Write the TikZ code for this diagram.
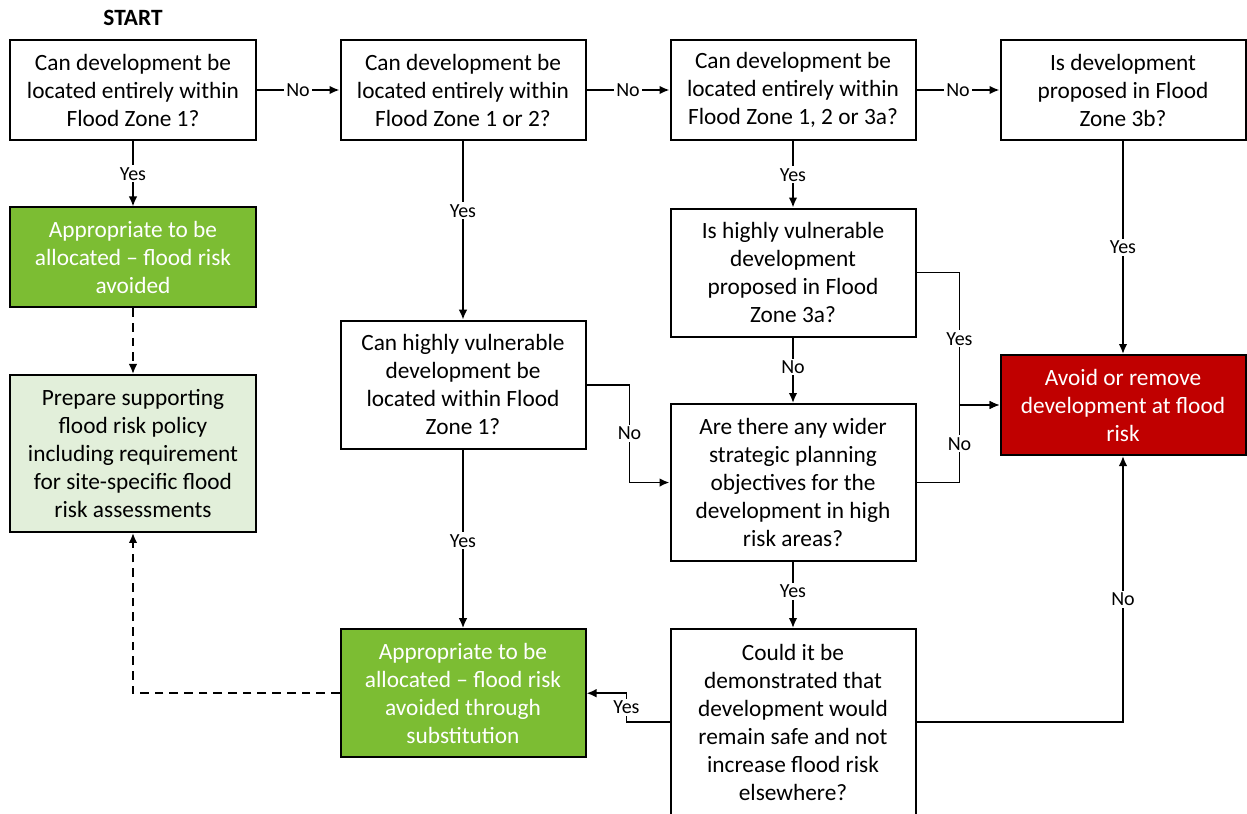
\documentclass[tikz,border=0pt]{standalone}
\usepackage{fontspec}
\setmainfont{Carlito}
\usetikzlibrary{arrows.meta}
\definecolor{Acolor}{HTML}{7CBD33}
\definecolor{Pcolor}{HTML}{E2EFDA}
\definecolor{Rcolor}{HTML}{C00000}
\tikzstyle{decision} = [line width=1.5pt, rectangle, minimum width=183.75pt, minimum height=75pt, text centered, align=center, draw=black, font=\fontsize{17.5}{21}\selectfont]
\tikzstyle{accepted} = [decision, fill=Acolor, text=white]
\tikzstyle{policy} = [decision, fill=Pcolor]
\tikzstyle{refused} = [decision, fill=Rcolor, text=white]
\tikzstyle{lbl} = [fill=white, inner sep=1.5pt, font=\fontsize{15}{17}\selectfont]
\tikzstyle{arrow} = [line width=1.4pt,->,>={Latex[length=7.5pt,width=6.5pt]}]
\tikzstyle{dasharrow} = [arrow, dash pattern=on 6.5pt off 4.5pt]

\begin{document}
\begin{tikzpicture}[node distance=247.5pt]

\useasboundingbox (-99.75pt,67.5pt) rectangle (835.5pt,-543pt);

\node (zoneone) [decision] {Can development be\\located entirely within\\Flood Zone 1?};
\node (zonetwo) [decision, right of=zoneone] {Can development be\\located entirely within\\Flood Zone 1 or 2?};
\node (zonethree) [decision, right of=zonetwo] {Can development be\\located entirely within\\Flood Zone 1, 2 or 3a?};
\node (zonethreeb) [decision, right of=zonethree] {Is development\\proposed in Flood\\Zone 3b?};

\node (start) [above of=zoneone, node distance=54pt, font=\bfseries\fontsize{17.5}{21}\selectfont] {START};

\node (avoided) [accepted, below of=zoneone, node distance=125.6pt] {Appropriate to be\\allocated -- flood risk\\avoided};
\node (prep) [policy, below of=avoided, node distance=147pt, minimum height=117.75pt] {Prepare supporting\\flood risk policy\\including requirement\\for site-specific flood\\risk assessments};

\node (hvone) [decision, below of=zonetwo, node distance=221pt, minimum height=96pt] {Can highly vulnerable\\development be\\located within Flood\\Zone 1?};
\node (substitution) [accepted, below of=hvone, node distance=231.4pt, minimum height=96pt] {Appropriate to be\\allocated -- flood risk\\avoided through\\substitution};

\node (hvthreea) [decision, below of=zonethree, node distance=136.9pt, minimum height=96pt] {Is highly vulnerable\\development\\proposed in Flood\\Zone 3a?};
\node (wider) [decision, below of=hvthreea, node distance=157.5pt, minimum height=117.75pt] {Are there any wider\\strategic planning\\objectives for the\\development in high\\risk areas?};
\node (safe) [decision, below of=wider, node distance=179.6pt, minimum height=139.5pt] {Could it be\\demonstrated that\\development would\\remain safe and not\\increase flood risk\\elsewhere?};

\node (remove) [refused, below of=zonethreeb, node distance=236.25pt] {Avoid or remove\\development at flood\\risk};

% top row
\draw [arrow] (zoneone) -- node[lbl] {No} (zonetwo);
\draw [arrow] (zonetwo) -- node[lbl] {No} (zonethree);
\draw [arrow] (zonethree) -- node[lbl] {No} (zonethreeb);

% downwards
\draw [arrow] (zoneone) -- node[lbl] {Yes} (avoided);
\draw [arrow] (zonetwo) -- node[lbl, pos=0.39] {Yes} (hvone);
\draw [arrow] (zonethree) -- node[lbl, pos=0.51] {Yes} (hvthreea);
\draw [arrow] (zonethreeb) -- node[lbl] {Yes} (remove);
\draw [arrow] (hvone) -- node[lbl, pos=0.51] {Yes} (substitution);
\draw [arrow] (hvthreea) -- node[lbl, pos=0.45] {No} (wider);
\draw [arrow] (wider) -- node[lbl, pos=0.44] {Yes} (safe);

% elbows
\draw [arrow] (hvone.east) -- ++(32.25pt,0) |- node[lbl, pos=0.25] {No} (wider.west);
\draw [arrow] (hvthreea.east) -- ++(32.25pt,0) |- node[lbl, pos=0.25] {Yes} (remove.west);
\draw [arrow] (wider.east) -- ++(32.25pt,0) |- node[lbl, pos=0.25] {No} (remove.west);
\draw [arrow] (safe.west) -- ++(-32.25pt,0) |- node[lbl, pos=0.25] {Yes} (substitution.east);
\draw [arrow] (safe.east) -| node[lbl, pos=0.73] {No} (remove.south);

% policy links
\draw [dasharrow] (avoided) -- (prep);
\draw [dasharrow] (substitution.west) -| (prep.south);

\end{tikzpicture}
\end{document}
